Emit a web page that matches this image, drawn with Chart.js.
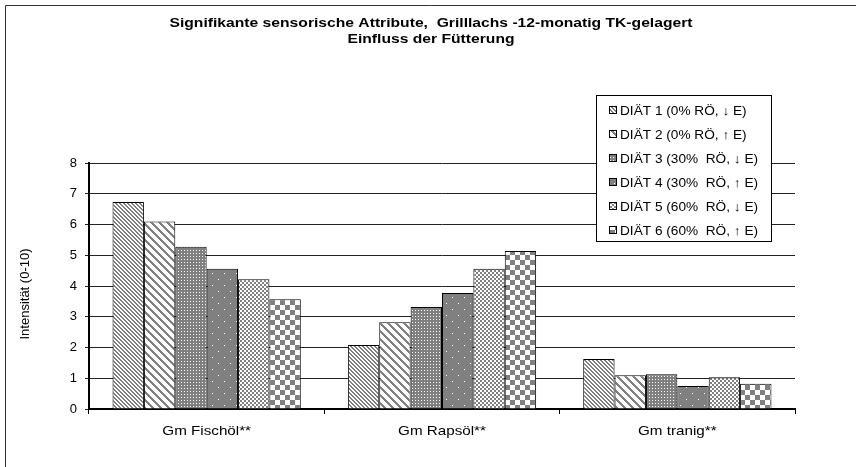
<!DOCTYPE html>
<html>
<head>
<meta charset="utf-8">
<script src="https://cdn.jsdelivr.net/npm/chart.js@4"></script>
<style>
  html, body { margin: 0; padding: 0; background: #fff; }
  #wrap { width: 856px; height: 467px; }
</style>
</head>
<body>
<div id="wrap"><canvas id="chart" width="856" height="467"></canvas></div>
<script>
const titleLines = ['Signifikante sensorische Attribute,  Grilllachs -12-monatig TK-gelagert', 'Einfluss der Fütterung'];
const yTitle = 'Intensität (0-10)';
const categories = ['Gm Fischöl**', 'Gm Rapsöl**', 'Gm tranig**'];
const dietLabels = [
  'DIÄT 1 (0% RÖ, ↓ E)',
  'DIÄT 2 (0% RÖ, ↑ E)',
  'DIÄT 3 (30%  RÖ, ↓ E)',
  'DIÄT 4 (30%  RÖ, ↑ E)',
  'DIÄT 5 (60%  RÖ, ↓ E)',
  'DIÄT 6 (60%  RÖ, ↑ E)'
];
const diet1 = [6.73, 2.08, 1.63];
const diet2 = [6.10, 2.82, 1.10];
const diet3 = [5.28, 3.32, 1.13];
const diet4 = [4.56, 3.77, 0.75];
const diet5 = [4.22, 4.56, 1.03];
const diet6 = [3.57, 5.14, 0.82];
const yTicks = [0, 1, 2, 3, 4, 5, 6, 7, 8];

const FONT = '"Liberation Sans", Arial, sans-serif';
const GRAY = '#808080';

const makePattern = (size, draw) => {
  const c = document.createElement('canvas');
  c.width = c.height = size;
  const g = c.getContext('2d');
  g.fillStyle = '#fff';
  g.fillRect(0, 0, size, size);
  g.fillStyle = GRAY;
  draw(g, size);
  return g.createPattern(c, 'repeat');
};

// fill pixels where test(x, y) is true
const pix = (test) => (g, s) => {
  for (let y = 0; y < s; y++) for (let x = 0; x < s; x++) if (test(x, y)) g.fillRect(x, y, 1, 1);
};

const patterns = [
  makePattern(4, pix((x, y) => ((x - y + 8) % 4) < 2)),
  makePattern(8, pix((x, y) => ((x - y + 16) % 8) < 3)),
  makePattern(3, pix((x, y) => !(x === 1 && y === 1))),
  makePattern(12, pix((x, y) => !((x === 2 && y === 3) || (x === 8 && y === 9)))),
  makePattern(4, pix((x, y) => ((Math.floor(x / 2) + Math.floor(y / 2)) % 2) === 0)),
  makePattern(10, pix((x, y) => ((Math.floor(x / 5) + Math.floor(y / 5)) % 2) === 0))
];

const series = [diet1, diet2, diet3, diet4, diet5, diet6];

// text drawn a bit wider, like the original rendering
const wideText = (ctx, text, x, y, stretch) => {
  ctx.save();
  ctx.translate(x, y);
  ctx.scale(stretch, 1);
  ctx.fillText(text, 0, 0);
  ctx.restore();
};

const decor = {
  id: 'decor',
  beforeDraw(chart) {
    const ctx = chart.ctx;
    ctx.save();
    ctx.fillStyle = '#fff';
    ctx.fillRect(0, 0, chart.width, chart.height);
    ctx.strokeStyle = '#333';
    ctx.lineWidth = 1;
    ctx.beginPath();
    ctx.moveTo(5.5, chart.height);
    ctx.lineTo(5.5, 5.5);
    ctx.lineTo(chart.width, 5.5);
    ctx.stroke();
    ctx.restore();
  },
  afterDraw(chart) {
    const ctx = chart.ctx;
    ctx.save();
    ctx.fillStyle = '#000';
    ctx.textBaseline = 'middle';
    ctx.textAlign = 'center';
    // title
    ctx.font = 'bold 13.5px ' + FONT;
    wideText(ctx, titleLines[0], 431, 23, 1.16);
    wideText(ctx, titleLines[1], 431, 39, 1.16);
    // category labels
    ctx.font = '13px ' + FONT;
    const xs = chart.scales.x;
    categories.forEach((c, i) => wideText(ctx, c, xs.getPixelForTick(i), 431, 1.17));
    // y title
    ctx.save();
    ctx.translate(25, 294);
    ctx.rotate(-Math.PI / 2);
    ctx.fillText(yTitle, 0, 0);
    ctx.restore();
    // legend box
    const bx = 596, by = 95, bw = 175, bh = 146;
    ctx.fillStyle = '#fff';
    ctx.fillRect(bx, by, bw, bh);
    ctx.strokeStyle = '#000';
    ctx.lineWidth = 1;
    ctx.strokeRect(bx + 0.5, by + 0.5, bw, bh);
    ctx.textAlign = 'left';
    chart.data.datasets.forEach((ds, i) => {
      const y = 110 + i * 24;
      ctx.fillStyle = ds.backgroundColor;
      ctx.fillRect(609, y - 4, 8, 8);
      ctx.strokeRect(609.5, y - 3.5, 7, 7);
      ctx.fillStyle = '#000';
      wideText(ctx, ds.label, 620, y + 1, 1.05);
    });
    ctx.restore();
  }
};

new Chart(document.getElementById('chart'), {
  type: 'bar',
  data: {
    labels: categories,
    datasets: series.map((data, i) => ({
      label: dietLabels[i],
      data,
      backgroundColor: patterns[i],
      borderColor: '#000',
      borderWidth: 1,
      borderSkipped: 'bottom'
    }))
  },
  options: {
    responsive: false,
    animation: false,
    devicePixelRatio: 1,
    layout: { padding: { left: 0, right: 61, top: 163, bottom: 0 } },
    datasets: { bar: { categoryPercentage: 0.8, barPercentage: 1 } },
    plugins: {
      legend: { display: false },
      title: { display: false },
      tooltip: { enabled: false }
    },
    scales: {
      x: {
        afterFit: (s) => { s.height = 58; },
        grid: { drawOnChartArea: false, color: '#000', tickLength: 5 },
        border: { color: '#000', width: 2 },
        ticks: { display: false }
      },
      y: {
        min: 0,
        max: 8,
        afterFit: (s) => { s.width = 89; },
        afterBuildTicks: (s) => { s.ticks = yTicks.map(v => ({ value: v })); },
        grid: { color: '#222', tickLength: 4 },
        border: { color: '#000', width: 2 },
        ticks: { color: '#000', font: { family: FONT, size: 13 }, padding: 8 }
      }
    }
  },
  plugins: [decor]
});
</script>
</body>
</html>
